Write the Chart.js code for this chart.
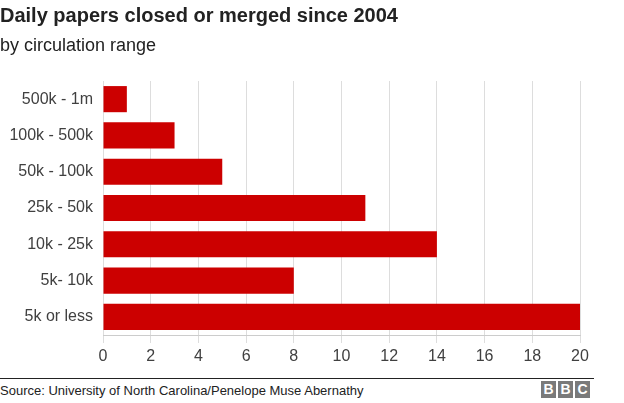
<!DOCTYPE html>
<html>
<head>
<meta charset="utf-8">
<script src="https://cdn.jsdelivr.net/npm/chart.js@4/dist/chart.umd.min.js"></script>
<style>
  body { margin: 0; background: #fff; font-family: "Liberation Sans", Arial, sans-serif; }
  #wrap { position: relative; width: 624px; height: 403px; overflow: hidden; }
  #chartBox { position: absolute; left: 0; top: 0; width: 624px; height: 370px; }
  h1 { position: absolute; left: 0; top: 4px; margin: 0; font-size: 20px; font-weight: bold; color: #222; }
  h2 { position: absolute; left: 0; top: 35px; margin: 0; font-size: 18px; font-weight: normal; color: #222; }
  #line { position: absolute; left: 0; top: 378px; width: 594px; height: 1px; background: #222; }
  #source { position: absolute; left: 0; top: 383px; font-size: 13px; color: #222; }
  #bbc { position: absolute; left: 541px; top: 381px; display: flex; gap: 2px; }
  #bbc div { width: 15px; height: 17px; background: #7a7a7a; color: #fff; font-weight: bold; font-size: 14px; text-align: center; line-height: 17px; }
</style>
</head>
<body>
<div id="wrap">
  <div id="chartBox"><canvas id="myChart"></canvas></div>
  <h1>Daily papers closed or merged since 2004</h1>
  <h2>by circulation range</h2>
  <div id="line"></div>
  <div id="source">Source: University of North Carolina/Penelope Muse Abernathy</div>
  <div id="bbc"><div>B</div><div>B</div><div>C</div></div>
</div>
<script>
const ranges = ["500k - 1m", "100k - 500k", "50k - 100k", "25k - 50k", "10k - 25k", "5k- 10k", "5k or less"];
const papers = [1, 3, 5, 11, 14, 8, 20];
const xTicks = [0, 2, 4, 6, 8, 10, 12, 14, 16, 18, 20];

const ctx = document.getElementById('myChart').getContext('2d');
const myChart = new Chart(ctx, {
  type: 'bar',
  data: {
    labels: ranges,
    datasets: [{
      data: papers,
      backgroundColor: '#cc0000',
      borderWidth: 0,
      barPercentage: 0.72,
      categoryPercentage: 1
    }]
  },
  options: {
    indexAxis: 'y',
    responsive: true,
    maintainAspectRatio: false,
    animation: false,
    events: [],
    layout: { padding: { top: 81, right: 44, left: 0, bottom: 0 } },
    plugins: {
      legend: { display: false },
      tooltip: { enabled: false }
    },
    scales: {
      x: {
        min: 0,
        max: 20,
        afterBuildTicks: (axis) => { axis.ticks = xTicks.map(v => ({ value: v })); },
        afterFit: (axis) => { axis.height = 35; },
        grid: { color: '#dddddd', tickLength: 8, tickColor: '#dddddd' },
        border: { color: '#cccccc' },
        ticks: { color: '#404040', font: { family: 'Liberation Sans', size: 16 }, padding: 4, maxRotation: 0 }
      },
      y: {
        afterFit: (axis) => { axis.width = 103; },
        grid: { display: false, drawTicks: false },
        border: { display: false },
        ticks: { color: '#404040', font: { family: 'Liberation Sans', size: 16 }, padding: 10 }
      }
    }
  }
});
</script>
</body>
</html>
